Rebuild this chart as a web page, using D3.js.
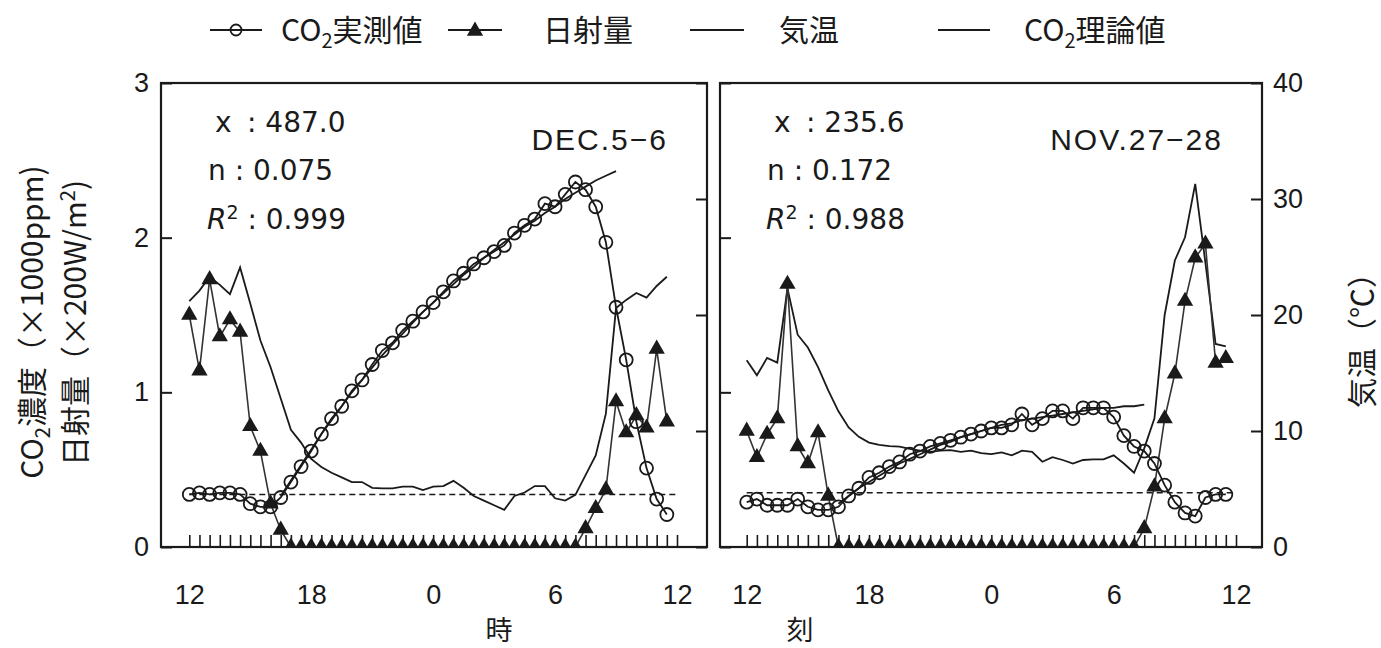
<!DOCTYPE html>
<html>
<head>
<meta charset="utf-8">
<script src="https://cdn.jsdelivr.net/npm/d3@7"></script>
<style>
body { margin: 0; background: #fff; }
</style>
</head>
<body>
<div id="graph"></div>
<script>
// measurement times: every 30 min from 12:00 to 12:00 next day (hours, 24 = midnight)
var hours = d3.range(49).map(function(i) { return 12 + i * 0.5; });
var xTickValues = [12, 18, 24, 30, 36];
var xTickLabels = ["12", "18", "0", "6", "12"];
var co2Ticks = [0, 1, 2, 3];
var tempTicks = [0, 10, 20, 30, 40];

// DEC.5-6
var decCO2 = [0.34,0.35,0.34,0.35,0.35,0.34,0.28,0.26,0.26,0.32,0.42,0.52,0.62,0.73,0.83,0.91,1.01,1.08,1.18,1.27,1.32,1.40,1.46,1.52,1.58,1.65,1.72,1.77,1.83,1.87,1.91,1.95,2.03,2.08,2.12,2.22,2.20,2.28,2.36,2.31,2.20,1.97,1.55,1.21,0.81,0.51,0.31,0.21];
var decTheoryStart = 16.5;
var decTheory = [0.33,0.43,0.53,0.63,0.73,0.82,0.91,1.00,1.08,1.16,1.24,1.31,1.38,1.45,1.52,1.58,1.64,1.70,1.76,1.81,1.87,1.92,1.97,2.02,2.07,2.11,2.16,2.20,2.25,2.29,2.33,2.37,2.40,2.43];
var decSolar = [1.50,1.14,1.73,1.36,1.47,1.39,0.78,0.62,0.28,0.11,0,0,0,0,0,0,0,0,0,0,0,0,0,0,0,0,0,0,0,0,0,0,0,0,0,0,0,0,0,0.12,0.25,0.37,0.94,0.74,0.85,0.77,1.28,0.81];
var decTemp = [21.2,22.1,23.3,22.6,21.8,24.1,21.0,17.8,15.5,12.8,10.1,9.0,7.6,6.9,6.4,6.0,5.6,5.6,5.1,5.05,5.05,5.2,5.2,4.9,5.2,5.25,5.7,5.1,4.4,4.0,3.6,3.2,4.4,4.7,5.25,5.25,4.2,4.0,4.5,6.2,7.9,11.5,20.6,21.3,21.9,21.5,22.5,23.3];
var decAmbient = 0.34;
var decStats = ["487.0", "0.075", "0.999"];

// NOV.27-28
var novCO2 = [0.29,0.31,0.27,0.27,0.27,0.31,0.26,0.24,0.24,0.26,0.33,0.38,0.45,0.48,0.52,0.55,0.60,0.62,0.65,0.67,0.69,0.71,0.73,0.75,0.77,0.77,0.79,0.86,0.79,0.83,0.88,0.88,0.83,0.90,0.90,0.90,0.84,0.72,0.65,0.62,0.54,0.40,0.29,0.22,0.20,0.32,0.34,0.34];
var novTheoryStart = 16.5;
var novTheory = [0.28,0.33,0.38,0.42,0.46,0.50,0.54,0.57,0.60,0.63,0.66,0.68,0.71,0.73,0.75,0.77,0.79,0.80,0.82,0.83,0.84,0.85,0.86,0.87,0.88,0.89,0.90,0.90,0.91,0.91,0.92];
var novSolar = [0.75,0.58,0.73,0.83,1.70,0.65,0.54,0.74,0.33,0,0,0,0,0,0,0,0,0,0,0,0,0,0,0,0,0,0,0,0,0,0,0,0,0,0,0,0,0,0,0.12,0.39,0.83,1.12,1.59,1.87,1.96,1.19,1.22];
var novTemp = [16.1,14.8,16.3,15.9,22.3,18.3,17.2,15.5,13.5,11.7,10.3,9.5,9.0,8.8,8.7,8.65,8.45,8.3,8.2,8.3,8.35,8.2,8.3,8.1,8.0,8.15,7.9,8.3,8.2,7.35,7.75,7.5,7.2,7.5,7.55,7.55,7.9,7.2,6.4,8.5,11.1,20.0,24.7,26.7,31.3,24.5,17.5,17.3];
var novAmbient = 0.35;
var novStats = ["235.6", "0.172", "0.988"];

var width = 1381, height = 648;
var yTop = 83, yBot = 547;
var ink = "#1a1a1a";
var latin = "'Liberation Sans', Arial, sans-serif";
var cjk = "'Noto Sans CJK JP', 'Noto Sans', sans-serif";

var svg = d3.select("#graph")
  .append("svg")
    .attr("width", width)
    .attr("height", height)
    .style("font-family", latin);

var yCO2 = d3.scaleLinear().domain([0, 3]).range([yBot, yTop]);
var yTemp = d3.scaleLinear().domain([0, 40]).range([yBot, yTop]);

var panels = [
  {id: "dec", x0: 161, x1: 707, range: [189.3, 677.0], co2: decCO2, theory: decTheory, theoryStart: decTheoryStart,
   solar: decSolar, temp: decTemp, ambient: decAmbient, stats: decStats, label: "DEC.5\u22126", leftLabels: true},
  {id: "nov", x0: 720, x1: 1262, range: [746.7, 1236.0], co2: novCO2, theory: novTheory, theoryStart: novTheoryStart,
   solar: novSolar, temp: novTemp, ambient: novAmbient, stats: novStats, label: "NOV.27\u221228", leftLabels: false}
];

function styleAxis(a) {
  a.select(".domain").remove();
  a.selectAll("line").attr("stroke", ink).attr("stroke-width", 2);
  a.selectAll("text").attr("font-size", 27).attr("fill", ink).attr("font-family", latin);
}

panels.forEach(function(p) {
  var x = d3.scaleLinear().domain([12, 36]).range(p.range);
  var g = svg.append("g");

  g.append("clipPath").attr("id", "clip-" + p.id)
    .append("rect").attr("x", p.x0).attr("y", yTop).attr("width", p.x1 - p.x0).attr("height", yBot - yTop);

  // half-hour ticks along the bottom
  g.append("g")
    .attr("transform", "translate(0," + yBot + ")")
    .call(d3.axisBottom(x).tickValues(hours).tickSize(-12).tickFormat(""))
    .call(function(a) { styleAxis(a); a.selectAll("line").attr("stroke-width", 1.6); });

  // hour labels
  g.append("g")
    .attr("transform", "translate(0," + yBot + ")")
    .call(d3.axisBottom(x).tickValues(xTickValues).tickSize(0).tickPadding(38)
      .tickFormat(function(d, i) { return xTickLabels[i]; }))
    .call(styleAxis);

  // left axis (CO2 / solar)
  g.append("g")
    .attr("transform", "translate(" + p.x0 + ",0)")
    .call(d3.axisLeft(yCO2).tickValues(co2Ticks).tickSize(-11).tickPadding(12)
      .tickFormat(p.leftLabels ? d3.format("d") : ""))
    .call(styleAxis);

  // right axis (temperature)
  g.append("g")
    .attr("transform", "translate(" + p.x1 + ",0)")
    .call(d3.axisRight(yTemp).tickValues(tempTicks).tickSize(-11).tickPadding(11)
      .tickFormat(p.leftLabels ? "" : d3.format("d")))
    .call(styleAxis);

  // frame
  g.append("rect")
    .attr("x", p.x0).attr("y", yTop)
    .attr("width", p.x1 - p.x0).attr("height", yBot - yTop)
    .attr("fill", "none").attr("stroke", ink).attr("stroke-width", 2.2);

  var plot = g.append("g").attr("clip-path", "url(#clip-" + p.id + ")");

  // ambient CO2 (dashed)
  plot.append("path")
    .datum([hours[0], hours[hours.length - 1]])
    .attr("fill", "none").attr("stroke", ink).attr("stroke-width", 1.5).attr("stroke-dasharray", "6,4")
    .attr("d", d3.line().x(function(d) { return x(d); }).y(function() { return yCO2(p.ambient); }));

  // temperature
  plot.append("path")
    .datum(p.temp)
    .attr("fill", "none").attr("stroke", ink).attr("stroke-width", 1.8)
    .attr("d", d3.line().x(function(d, i) { return x(hours[i]); }).y(function(d) { return yTemp(d); }));

  // theoretical CO2
  var t0 = hours.indexOf(p.theoryStart);
  plot.append("path")
    .datum(p.theory)
    .attr("fill", "none").attr("stroke", ink).attr("stroke-width", 1.8)
    .attr("d", d3.line().x(function(d, i) { return x(hours[t0 + i]); }).y(function(d) { return yCO2(d); }));

  // solar radiation
  plot.append("path")
    .datum(p.solar)
    .attr("fill", "none").attr("stroke", "#333").attr("stroke-width", 1.6)
    .attr("d", d3.line().x(function(d, i) { return x(hours[i]); }).y(function(d) { return yCO2(d); }));
  plot.selectAll(".tri")
    .data(p.solar)
    .enter().append("path")
      .attr("transform", function(d, i) { return "translate(" + x(hours[i]) + "," + yCO2(d) + ")"; })
      .attr("d", d3.symbol().type(d3.symbolTriangle).size(115))
      .attr("fill", ink);

  // measured CO2
  plot.append("path")
    .datum(p.co2)
    .attr("fill", "none").attr("stroke", ink).attr("stroke-width", 1.8)
    .attr("d", d3.line().x(function(d, i) { return x(hours[i]); }).y(function(d) { return yCO2(d); }));
  plot.selectAll(".circ")
    .data(p.co2)
    .enter().append("circle")
      .attr("cx", function(d, i) { return x(hours[i]); })
      .attr("cy", function(d) { return yCO2(d); })
      .attr("r", 6.5)
      .attr("fill", "none").attr("stroke", ink).attr("stroke-width", 1.8);

  // fit statistics
  var st = g.append("g").attr("font-family", "'DejaVu Sans', Verdana, sans-serif").attr("font-size", 28).attr("fill", ink);
  st.append("text").attr("x", p.x0 + 54).attr("y", 132).text("x");
  st.append("text").attr("x", p.x0 + 86).attr("y", 132).text(": " + p.stats[0]);
  st.append("text").attr("x", p.x0 + 47).attr("y", 180).text("n : " + p.stats[1]);
  var r2 = st.append("text").attr("x", p.x0 + 46).attr("y", 229);
  r2.append("tspan").attr("font-style", "italic").text("R");
  r2.append("tspan").attr("font-size", 19).attr("dy", -10).text("2");
  r2.append("tspan").attr("dy", 10).text(" : " + p.stats[2]);

  g.append("text")
    .attr("x", p.x1 - 39).attr("y", 150)
    .attr("text-anchor", "end")
    .attr("font-size", 30).attr("letter-spacing", 2).attr("fill", ink)
    .text(p.label);
});

// legend
var legend = svg.append("g").attr("font-family", cjk).attr("font-size", 30).attr("fill", ink);
var ly = 30;
function legendLine(x1, x2) {
  legend.append("line").attr("x1", x1).attr("x2", x2).attr("y1", ly).attr("y2", ly)
    .attr("stroke", ink).attr("stroke-width", 1.8);
}
function co2Text(x, suffix) {
  var t = legend.append("text").attr("x", x).attr("y", ly + 11);
  t.append("tspan").text("CO");
  t.append("tspan").attr("font-size", 20).attr("dy", 7).text("2");
  t.append("tspan").attr("dy", -7).text(suffix);
}
legendLine(210, 262);
legend.append("circle").attr("cx", 236).attr("cy", ly).attr("r", 5.5).attr("fill", "none").attr("stroke", ink).attr("stroke-width", 1.8);
co2Text(281, "実測値");
legendLine(448, 502);
legend.append("path").attr("transform", "translate(475," + (ly + 1) + ")")
  .attr("d", d3.symbol().type(d3.symbolTriangle).size(115)).attr("fill", ink);
legend.append("text").attr("x", 543).attr("y", ly + 11).text("日射量");
legendLine(690, 744);
legend.append("text").attr("x", 779).attr("y", ly + 11).text("気温");
legendLine(938, 990);
co2Text(1024, "理論値");

// axis titles
var yl1 = svg.append("text").attr("font-family", cjk).attr("font-size", 30).attr("fill", ink)
  .attr("text-anchor", "middle").attr("transform", "translate(43,322) rotate(-90)");
yl1.append("tspan").text("CO");
yl1.append("tspan").attr("font-size", 20).attr("dy", 7).text("2");
yl1.append("tspan").attr("dy", -7).text("濃度（×1000ppm)");

var yl2 = svg.append("text").attr("font-family", cjk).attr("font-size", 30).attr("fill", ink)
  .attr("text-anchor", "middle").attr("transform", "translate(86,323) rotate(-90)");
yl2.append("tspan").text("日射量（×200W/m");
yl2.append("tspan").attr("font-size", 20).attr("dy", -11).text("2");
yl2.append("tspan").attr("dy", 11).text(")");

svg.append("text").attr("font-family", cjk).attr("font-size", 30).attr("fill", ink)
  .attr("text-anchor", "middle").attr("transform", "translate(1373,333) rotate(-90)")
  .text("気温（℃）");

svg.append("text").attr("font-family", cjk).attr("font-size", 27).attr("fill", ink)
  .attr("x", 499).attr("y", 640).attr("text-anchor", "middle").text("時");
svg.append("text").attr("font-family", cjk).attr("font-size", 27).attr("fill", ink)
  .attr("x", 800).attr("y", 640).attr("text-anchor", "middle").text("刻");
</script>
</body>
</html>
